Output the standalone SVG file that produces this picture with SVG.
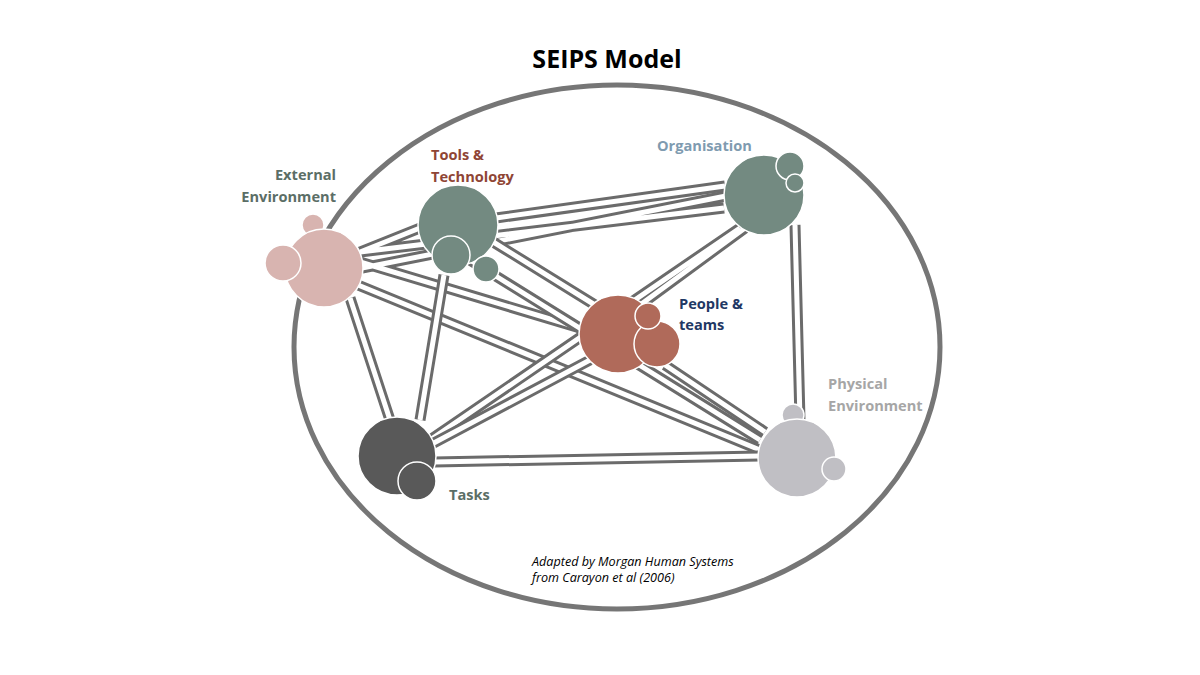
<svg xmlns="http://www.w3.org/2000/svg" width="1200" height="675" viewBox="0 0 1200 675">
<style>
.g{stroke:#6b6b6b;stroke-width:11;fill:none}
.w{stroke:#fff;stroke-width:5;fill:none}
circle{stroke:#fff;stroke-width:1.5}
.lbl{font-family:"Open Sans",sans-serif;font-weight:bold;font-size:14.6px}
</style>
<rect width="1200" height="675" fill="#fff"/>
<text x="607" y="68" text-anchor="middle" font-family="Open Sans, sans-serif" font-weight="bold" font-size="25" fill="#000">SEIPS Model</text>
<ellipse cx="617" cy="347" rx="323" ry="262" fill="none" stroke="#767676" stroke-width="5"/>
<g id="connectors">
<path class="g" d="M360 252L420 228M360 252L724 208M360 262L580 328M358 285L760 450M350 298L390 420M362 268L726 196"/><path class="w" d="M360 252L420 228M360 252L724 208M360 262L580 328M358 285L760 450M350 298L390 420M362 268L726 196"/>
<path class="g" d="M496 218L725 186M490 240L595 305M444 275L420 420M470 260L760 440"/><path class="w" d="M496 218L725 186M490 240L595 305M444 275L420 420M470 260L760 440"/>
<path class="g" d="M745 228L640 305M795 225L800 420M740 228L430 440"/><path class="w" d="M745 228L640 305M795 225L800 420M740 228L430 440"/>
<path class="g" d="M590 360L430 445M665 365L765 432M434 462L760 456"/><path class="w" d="M590 360L430 445M665 365L765 432M434 462L760 456"/>
</g>
<g id="external"><circle cx="313" cy="225" r="11" fill="#d8b4b0"/><circle cx="324" cy="268" r="39" fill="#d8b4b0"/><circle cx="283" cy="263" r="18" fill="#d8b4b0"/></g>
<g id="tools"><circle cx="458" cy="225" r="40" fill="#738a81"/><circle cx="451" cy="255" r="19" fill="#738a81"/><circle cx="486" cy="269" r="13" fill="#738a81"/></g>
<g id="org"><circle cx="764" cy="195" r="40" fill="#738a81"/><circle cx="790" cy="166" r="14" fill="#738a81"/><circle cx="795" cy="183" r="9" fill="#738a81"/></g>
<g id="people"><circle cx="618" cy="334" r="39" fill="#b06a5a"/><circle cx="657" cy="344" r="23" fill="#b06a5a"/><circle cx="648" cy="316" r="13" fill="#b06a5a"/></g>
<g id="physical"><circle cx="793" cy="415" r="11" fill="#c0bfc4"/><circle cx="797" cy="458" r="39" fill="#c0bfc4"/><circle cx="834" cy="469" r="12" fill="#c0bfc4"/></g>
<g id="tasks"><circle cx="397" cy="456" r="39" fill="#595959"/><circle cx="417" cy="481" r="19" fill="#595959"/></g>
<g class="lbl">
<text x="336" y="180" text-anchor="end" fill="#5b6e66">External</text>
<text x="336" y="202" text-anchor="end" fill="#5b6e66">Environment</text>
<text x="431" y="160" fill="#8f4535">Tools &amp;</text>
<text x="431" y="182" fill="#8f4535">Technology</text>
<text x="657" y="151" fill="#7f9bb0">Organisation</text>
<text x="679" y="309" fill="#1f3864">People &amp;</text>
<text x="679" y="330" fill="#1f3864">teams</text>
<text x="828" y="389" fill="#a6a6a6">Physical</text>
<text x="828" y="411" fill="#a6a6a6">Environment</text>
<text x="449" y="500" fill="#5b6e66">Tasks</text>
</g>
<text font-family="Open Sans, sans-serif" font-style="italic" font-size="12.6" fill="#000"><tspan x="532" y="566">Adapted by Morgan Human Systems</tspan><tspan x="532" y="582">from Carayon et al (2006)</tspan></text>
</svg>
